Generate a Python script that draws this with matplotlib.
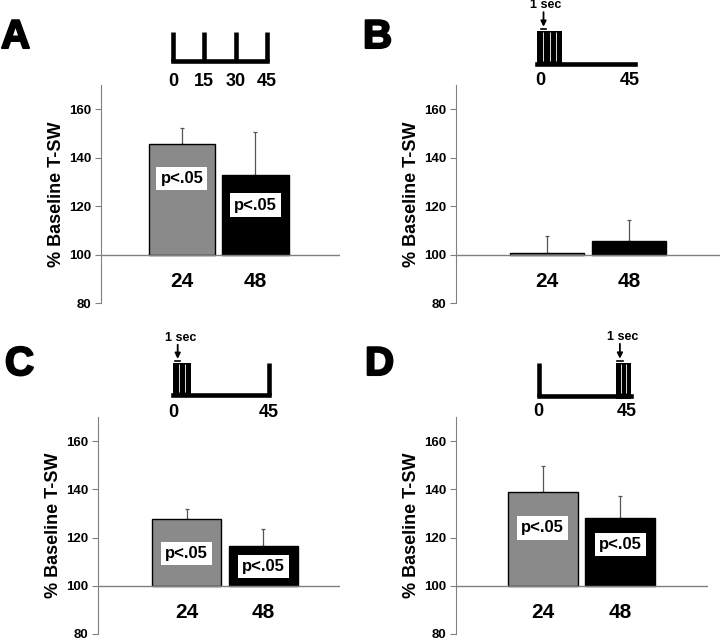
import matplotlib
matplotlib.use('Agg')
import matplotlib.pyplot as plt
import matplotlib.patheffects as pe
import numpy as np

plt.rcParams['font.family'] = ['Liberation Sans', 'DejaVu Sans']
plt.rcParams['font.weight'] = 'bold'

# data: % baseline T-SW at 24 h and 48 h (mean, upper error)
groups = ['24', '48']
a_mean = [145.6, 132.9]
a_err = [6.6, 17.8]
b_mean = [100.5, 105.5]
b_err = [7.0, 8.6]
c_mean = [127.6, 116.3]
c_err = [4.1, 7.2]
d_mean = [139.0, 128.1]
d_err = [10.8, 9.3]
sig_text = 'p<.05'
yticks = [80, 100, 120, 140, 160]

# stimulation schedules (minutes)
a_trains = [0, 15, 30, 45]
b_trains = []
c_trains = [45]
d_trains = [0]
sched_labels_a = ['0', '15', '30', '45']
sched_labels = ['0', '45']

W, H = 720, 640
bar_colors = ['#8a8a8a', 'black']
axis_gray = '#808080'


def px_rect(l, t, r, b):
    return [l / W, 1 - b / H, (r - l) / W, (b - t) / H]


def draw_bars(fig, rect, xlim, means, errs, box_y):
    ax = fig.add_axes(px_rect(*rect))
    x = np.arange(len(groups))
    heights = [m - 100 for m in means]
    ax.bar(x, heights, width=0.9, bottom=100, color=bar_colors,
           edgecolor='black', linewidth=1.0, zorder=3)
    ax.errorbar(x, means, yerr=[np.zeros(len(errs)), errs], fmt='none',
                ecolor='#555555', elinewidth=0.9, capsize=1.3, capthick=0.9,
                zorder=2)
    ax.axhline(100, color=axis_gray, lw=1, zorder=4)
    ax.set_xlim(*xlim)
    ax.set_ylim(80, 170)
    for s in ['top', 'right', 'bottom']:
        ax.spines[s].set_visible(False)
    ax.spines['left'].set_color(axis_gray)
    ax.set_xticks([])
    ax.set_yticks(yticks)
    ax.tick_params(axis='y', direction='out', length=4, color=axis_gray,
                   labelsize=9.5, pad=3)
    ax.set_ylabel('% Baseline T-SW', fontsize=13, fontweight='bold', labelpad=3)
    for xi, g in zip(x, groups):
        ax.text(xi, 88.8, g, ha='center', va='center', fontsize=15)
    if box_y:
        for xi, by in zip(x, box_y):
            ax.text(xi, by, sig_text, ha='center', va='center', fontsize=12,
                    zorder=6,
                    bbox=dict(boxstyle='square,pad=0.25', fc='white', ec='none'))
    return ax


def draw_schedule(fig, rect, trains, labels, label_t, label_dy,
                  burst=None):
    sa = fig.add_axes(px_rect(*rect))
    sa.set_xlim(0, 45)
    sa.set_ylim(0, 1)
    sa.axis('off')
    lw = 3.3
    sa.plot([0, 45], [0, 0], color='black', lw=lw,
            solid_capstyle='projecting', clip_on=False)
    for t in trains:
        sa.plot([t, t], [0, 1], color='black', lw=lw,
                solid_capstyle='butt', clip_on=False)
    if burst:
        start, width, n = burst
        sa.bar(start, 1.08, width=width, bottom=-0.08, align='edge',
               color='black', linewidth=0, clip_on=False)
        inner = start + np.arange(1, n) * width / n
        sa.vlines(inner, 0.08, 0.98, color='#dddddd', lw=0.7)
        ax_x = start + 0.26 * width
        sa.annotate('', xy=(ax_x, 1.13), xytext=(ax_x, 1.58),
                    arrowprops=dict(arrowstyle='-|>', color='black', lw=1.3,
                                    mutation_scale=8, shrinkA=0, shrinkB=0),
                    annotation_clip=False)
        sa.plot([ax_x - 1.3, ax_x + 1.3], [1.07, 1.07], color='black',
                lw=1.2, clip_on=False)
        sa.text(ax_x + 1.2, 1.8, '1 sec', ha='center', va='center',
                fontsize=9, clip_on=False)
    for t, lab in zip(label_t, labels):
        sa.annotate(lab, (t, 0), xytext=(0, label_dy),
                    textcoords='offset pixels', ha='center', va='center',
                    fontsize=13, annotation_clip=False)
    return sa


def main():
    fig = plt.figure(figsize=(W / 100, H / 100), dpi=100)

    # A
    draw_bars(fig, (101, 85, 340, 303), (-1.10, 2.15), a_mean, a_err,
              [131.4, 120.4])
    draw_schedule(fig, (173, 32, 267, 61), a_trains, sched_labels_a,
                  a_trains, -20)
    # B
    draw_bars(fig, (456, 85, 720, 303), (-1.10, 2.10), b_mean, b_err, None)
    draw_schedule(fig, (537, 31, 635, 63.5), b_trains, sched_labels,
                  [1.5, 42.5], -17, burst=(0, 11.5, 4))
    # C
    draw_bars(fig, (98, 417, 340, 634), (-1.16, 2.00), c_mean, c_err,
              [113.5, 107.9])
    draw_schedule(fig, (173, 363, 268.5, 394.5), c_trains, sched_labels,
                  [0, 45], -18, burst=(0, 8.5, 3))
    # D
    draw_bars(fig, (456, 417, 708, 634), (-1.12, 2.13), d_mean, d_err,
              [124.0, 117.0])
    draw_schedule(fig, (538.5, 363, 631, 396), d_trains, sched_labels,
                  [0, 43.0], -16, burst=(37.7, 7.3, 3))

    for lab, (lx, ly) in zip('ABCD', [(1, 48), (363, 48), (5, 375), (365, 375)]):
        fig.text(lx / W, 1 - ly / H, lab, fontsize=29, fontweight='bold',
                 ha='left', va='baseline',
                 path_effects=[pe.withStroke(linewidth=1.5, foreground='black')])

    fig.savefig('out.png', dpi=100)


if __name__ == '__main__':
    main()
